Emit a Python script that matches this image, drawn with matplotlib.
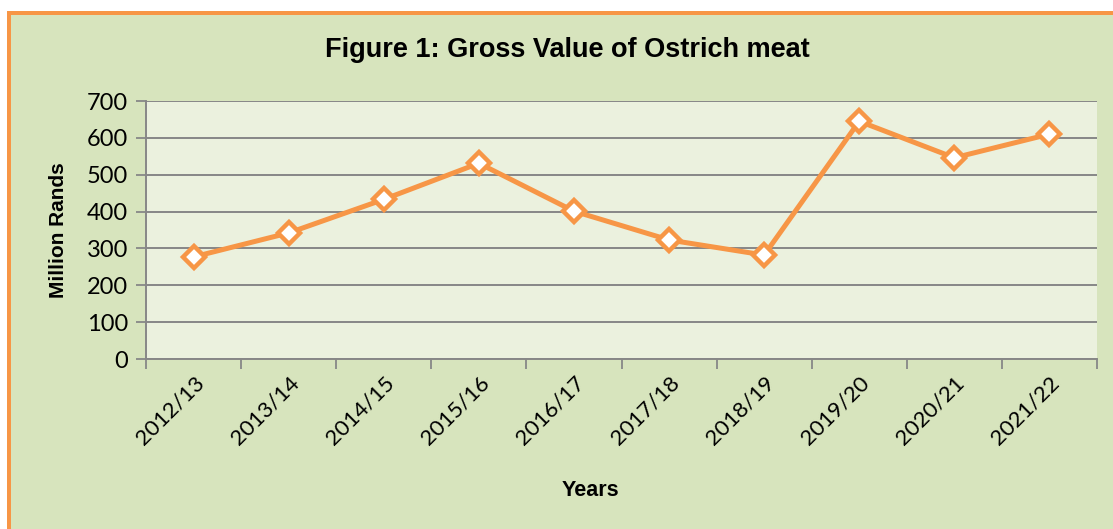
import matplotlib.pyplot as plt
from matplotlib.patches import Rectangle

years = ["2012/13", "2013/14", "2014/15", "2015/16", "2016/17",
         "2017/18", "2018/19", "2019/20", "2020/21", "2021/22"]
gross_value = [277, 342, 433, 531, 401, 323, 282, 645, 546, 610]
y_ticks = [0, 100, 200, 300, 400, 500, 600, 700]

ORANGE = "#F79646"
PANEL = "#D7E4BD"
PLOT_BG = "#EBF1DE"
GRID = "#878787"

W, H = 1113, 529
fig = plt.figure(figsize=(W / 100, H / 100), dpi=100)
fig.patch.set_facecolor("white")

# green panel with orange border (left + top)
fig.patches.append(Rectangle((9 / W, 0), 1.2, 1 - 14 / H, transform=fig.transFigure,
                             facecolor=PANEL, edgecolor="none", zorder=-3))
fig.patches.append(Rectangle((7 / W, 0), 3.5 / W, 1 - 11 / H, transform=fig.transFigure,
                             facecolor=ORANGE, edgecolor="none", zorder=-2))
fig.patches.append(Rectangle((7 / W, 1 - 14.5 / H), 1.2, 3.5 / H, transform=fig.transFigure,
                             facecolor=ORANGE, edgecolor="none", zorder=-2))

ax = fig.add_axes([146 / W, 1 - 359 / H, (1097 - 146) / W, (359 - 101) / H])
ax.set_zorder(1)
ax.set_facecolor(PLOT_BG)

x = list(range(len(years)))
ax.plot(x, gross_value, color=ORANGE, lw=3.6, marker="D", markersize=11,
        markerfacecolor="white", markeredgecolor=ORANGE, markeredgewidth=3.2, zorder=3)

ax.set_xlim(-0.5, len(years) - 0.5)
ax.set_ylim(0, 700)
ax.set_yticks(y_ticks)
ax.yaxis.grid(True, color=GRID, lw=1.4)
ax.set_axisbelow(True)

ax.set_xticks([i - 0.5 for i in range(len(years) + 1)])
ax.set_xticklabels([])
ax.set_xticks(x, minor=True)
ax.set_xticklabels(years, minor=True, rotation=45, ha="right", rotation_mode="anchor",
                   fontsize=16, family="Lato")
ax.tick_params(axis="x", which="minor", length=0, pad=10)
ax.tick_params(axis="x", which="major", length=7, width=1.3, color=GRID)
ax.tick_params(axis="y", length=7, width=1.3, color=GRID, labelsize=17, pad=6)
for lab in ax.get_yticklabels():
    lab.set_family("Lato")

for side in ["top", "right"]:
    ax.spines[side].set_visible(False)
for side in ["left", "bottom"]:
    ax.spines[side].set_color(GRID)
    ax.spines[side].set_linewidth(1.4)

fig.text(567 / W, 1 - 50 / H, "Figure 1: Gross Value of Ostrich meat",
         ha="center", va="center", fontsize=19.5, fontweight="bold",
         family=["Liberation Sans Narrow", "Liberation Sans"])
fig.text(58 / W, 1 - 230 / H, "Million Rands", rotation=90, ha="center", va="center",
         fontsize=15, fontweight="bold", family=["Liberation Sans Narrow", "Liberation Sans"])
fig.text(590 / W, 1 - 491 / H, "Years", ha="center", va="center",
         fontsize=15.5, fontweight="bold", family=["Liberation Sans Narrow", "Liberation Sans"])

fig.savefig("out.png", dpi=100)
